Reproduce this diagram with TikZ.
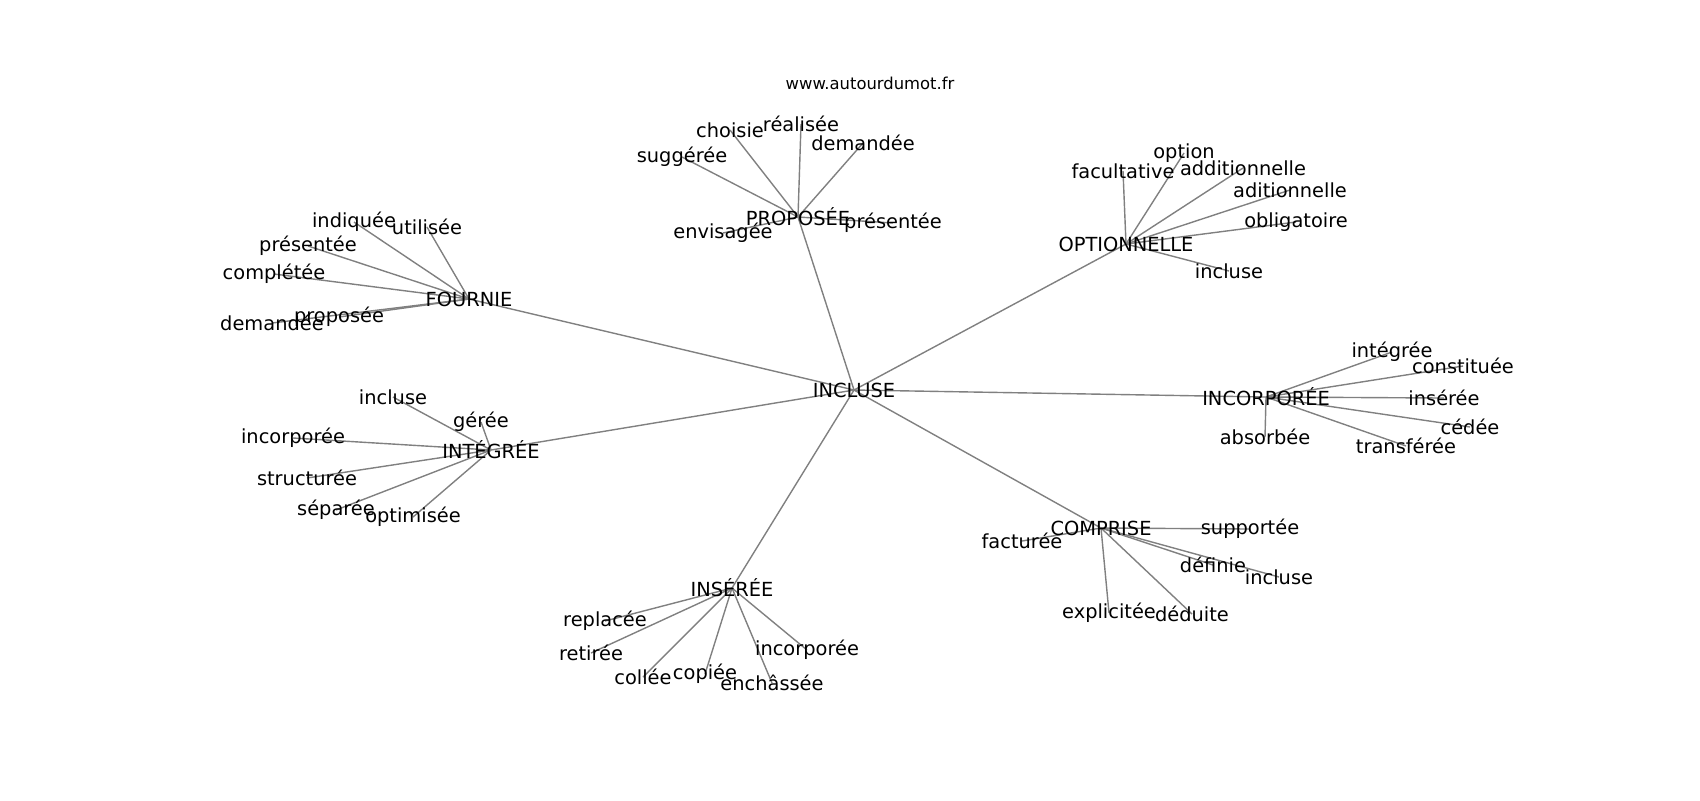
\documentclass[tikz,border=0pt]{standalone}
\usepackage{fontspec}
\setmainfont{DejaVu Sans}
\usepackage{tikz}
\usetikzlibrary{backgrounds}

\tikzset{
  word/.style={inner sep=0pt, font=\fontsize{9.7}{11}\selectfont},
  link/.style={draw=gray, line width=0.7pt}
}

\begin{document}
\begin{tikzpicture}[x=0.5pt, y=-0.5pt]
  \useasboundingbox (0,0) rectangle (1700,800);

  \node[font=\fontsize{8.2}{10}\selectfont, inner sep=0pt] (site) at (870,83) {www.autourdumot.fr};

  % centre and hubs
  \node[word] (incl) at (854,390) {INCLUSE};
  \node[word] (fourn) at (469,299) {FOURNIE};
  \node[word] (integ) at (491,450) {INTÉGRÉE};
  \node[word] (propo) at (798,217) {PROPOSÉE};
  \node[word] (optio) at (1126,244) {OPTIONNELLE};
  \node[word] (incor) at (1266,397) {INCORPORÉE};
  \node[word] (compr) at (1101,528) {COMPRISE};
  \node[word] (inser) at (732,588) {INSÉRÉE};

  % leaves
  \foreach \n/\x/\y/\t in {fo1/354/222/indiquée, fo2/427/227/utilisée, fo3/308/246/présentée,
      fo4/274/274/complétée, fo5/339/317/proposée, fo6/272/323/demandée}
    \node[word] (\n) at (\x,\y) {\t};
  \foreach \n/\x/\y/\t in {in1/393/397/incluse, in2/481/422/gérée, in3/293/438/incorporée,
      in4/307/478/structurée, in5/336/510/séparée, in6/413/517/optimisée}
    \node[word] (\n) at (\x,\y) {\t};
  \foreach \n/\x/\y/\t in {pr1/730/130/choisie, pr2/801/124/réalisée, pr3/863/143/demandée,
      pr4/682/157/suggérée, pr5/723/233/envisagée, pr6/893/223/présentée}
    \node[word] (\n) at (\x,\y) {\t};
  \foreach \n/\x/\y/\t in {op1/1184/153/option, op2/1123/171/facultative, op3/1243/168/additionnelle,
      op4/1290/190/aditionnelle, op5/1296/222/obligatoire, op6/1229/271/incluse}
    \node[word] (\n) at (\x,\y) {\t};
  \foreach \n/\x/\y/\t in {ic1/1392/352/intégrée, ic2/1463/366/constituée, ic3/1444/398/insérée,
      ic4/1470/427/cédée, ic5/1265/437/absorbée, ic6/1406/446/transférée}
    \node[word] (\n) at (\x,\y) {\t};
  \foreach \n/\x/\y/\t in {co1/1022/541/facturée, co2/1250/529/supportée, co3/1213/565/définie,
      co4/1279/577/incluse, co5/1109/613/explicitée, co6/1192/614/déduite}
    \node[word] (\n) at (\x,\y) {\t};
  \foreach \n/\x/\y/\t in {is1/605/621/replacée, is2/591/653/retirée, is3/643/677/collée,
      is4/705/674/copiée, is5/772/683/enchâssée, is6/807/650/incorporée}
    \node[word] (\n) at (\x,\y) {\t};

  % edges under the words
  \begin{scope}[on background layer]
    \foreach \h in {fourn,integ,propo,optio,incor,compr,inser}
      \draw[link] (incl.center) -- (\h.center);
    \foreach \i in {1,...,6} {
      \draw[link] (fourn.center) -- (fo\i.center);
      \draw[link] (integ.center) -- (in\i.center);
      \draw[link] (propo.center) -- (pr\i.center);
      \draw[link] (optio.center) -- (op\i.center);
      \draw[link] (incor.center) -- (ic\i.center);
      \draw[link] (compr.center) -- (co\i.center);
      \draw[link] (inser.center) -- (is\i.center);
    }
  \end{scope}
\end{tikzpicture}
\end{document}
